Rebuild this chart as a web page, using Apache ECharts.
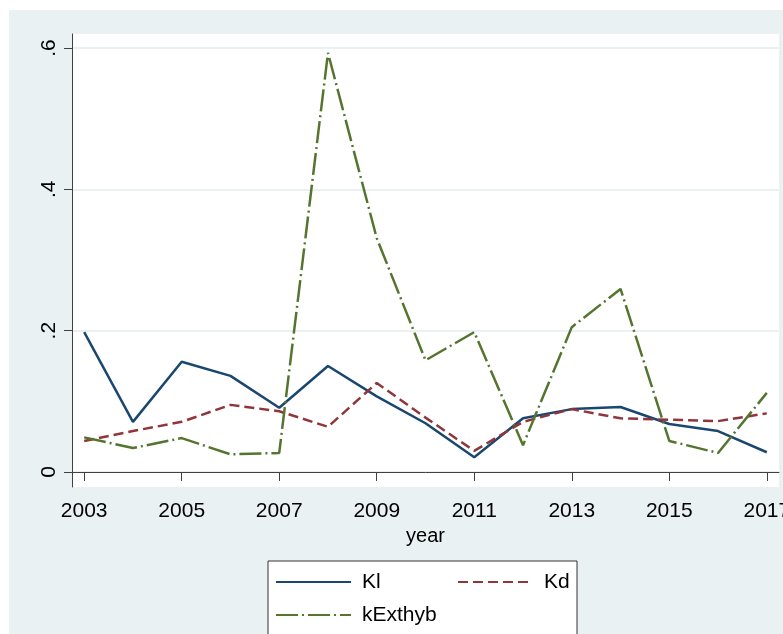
<!DOCTYPE html>
<html>
<head>
<meta charset="utf-8">
<script src="https://cdn.jsdelivr.net/npm/echarts@6/dist/echarts.min.js"></script>
<style>
  html, body { margin: 0; padding: 0; background: #ffffff; }
  #chart { width: 783px; height: 634px; }
</style>
</head>
<body>
<div id="chart"></div>
<script>
// Annual series, 2003-2017
const years = [2003, 2004, 2005, 2006, 2007, 2008, 2009, 2010, 2011, 2012, 2013, 2014, 2015, 2016, 2017];
const kl = [0.198, 0.071, 0.156, 0.136, 0.091, 0.150, 0.107, 0.069, 0.021, 0.076, 0.089, 0.092, 0.068, 0.058, 0.028];
const kd = [0.044, 0.058, 0.071, 0.095, 0.086, 0.064, 0.126, 0.077, 0.030, 0.071, 0.089, 0.076, 0.074, 0.072, 0.083];
const kExthyb = [0.049, 0.034, 0.048, 0.025, 0.027, 0.593, 0.331, 0.158, 0.198, 0.038, 0.205, 0.259, 0.044, 0.027, 0.112];

// Axis tick positions
const xTicks = [2003, 2005, 2007, 2009, 2011, 2013, 2015, 2017];
const yTicks = [0, 0.2, 0.4, 0.6];

const FONT = '"Liberation Sans", Arial, sans-serif';
const PANEL = '#eaf1f3';
const NAVY = '#1a476f';
const MAROON = '#90353b';
const GREEN = '#55752f';

const pairs = vals => years.map((y, i) => [y, vals[i]]);

function fmtY(v) {
  if (Math.abs(v) < 1e-9) return '0';
  return String(+v.toFixed(1)).replace(/^0/, '');
}

// One legend block per key so the keys sit in two columns
function legendFor(name, left, top) {
  return {
    data: [name],
    left: left,
    top: top,
    padding: 0,
    itemWidth: 75,
    itemHeight: 22,
    selectedMode: false,
    itemStyle: { opacity: 0 },
    textStyle: { fontFamily: FONT, fontSize: 21, color: '#000', lineHeight: 22, padding: [0, 0, 0, 6] }
  };
}

const chart = echarts.init(document.getElementById('chart'), null, { renderer: 'canvas' });

chart.setOption({
  animation: false,
  backgroundColor: '#ffffff',
  graphic: [
    {
      type: 'rect', z: -10, silent: true,
      shape: { x: 9, y: 10, width: 774, height: 624 },
      style: { fill: PANEL }
    },
    {
      type: 'rect', z: 1, silent: true,
      shape: { x: 268, y: 561, width: 309, height: 90 },
      style: { fill: '#ffffff', stroke: '#333333', lineWidth: 1 }
    }
  ],
  grid: {
    left: 72, top: 34, right: 4, bottom: 147,
    containLabel: false,
    outerBoundsMode: 'none',
    show: true, backgroundColor: '#ffffff', borderWidth: 0
  },
  legend: [
    legendFor('Kl', 275, 571),
    legendFor('Kd', 457, 571),
    legendFor('kExthyb', 275, 604)
  ],
  xAxis: {
    type: 'value',
    min: 2002.75,
    max: 2017.25,
    name: 'year',
    nameLocation: 'middle',
    nameGap: 38,
    nameTextStyle: { fontFamily: FONT, fontSize: 20, color: '#000' },
    axisLine: { show: true, lineStyle: { color: '#404040', width: 1 } },
    axisTick: { show: true, length: 9, customValues: xTicks, lineStyle: { color: '#404040', width: 1 } },
    axisLabel: {
      customValues: xTicks, margin: 14,
      fontFamily: FONT, fontSize: 21, color: '#000',
      formatter: v => String(v)
    },
    splitLine: { show: false }
  },
  yAxis: {
    type: 'value',
    min: -0.0212,
    max: 0.6198,
    axisLine: { show: true, lineStyle: { color: '#404040', width: 1 } },
    axisTick: { show: true, length: 8, customValues: yTicks, lineStyle: { color: '#404040', width: 1 } },
    axisLabel: {
      customValues: yTicks, rotate: 90, margin: 12,
      fontFamily: FONT, fontSize: 21, color: '#000',
      formatter: fmtY
    },
    splitLine: { show: true, lineStyle: { color: '#e3ecef', width: 1.5 } }
  },
  series: [
    {
      name: 'Kl', type: 'line', data: pairs(kl),
      symbol: 'none', z: 3,
      lineStyle: { color: NAVY, width: 2.5 },
      itemStyle: { color: NAVY }
    },
    {
      name: 'Kd', type: 'line', data: pairs(kd),
      symbol: 'none', z: 3,
      lineStyle: { color: MAROON, width: 2.5, type: [10, 5] },
      itemStyle: { color: MAROON }
    },
    {
      name: 'kExthyb', type: 'line', data: pairs(kExthyb),
      symbol: 'none', z: 3,
      lineStyle: { color: GREEN, width: 2.5, type: [22, 4, 2, 4] },
      itemStyle: { color: GREEN }
    }
  ]
});
</script>
</body>
</html>
